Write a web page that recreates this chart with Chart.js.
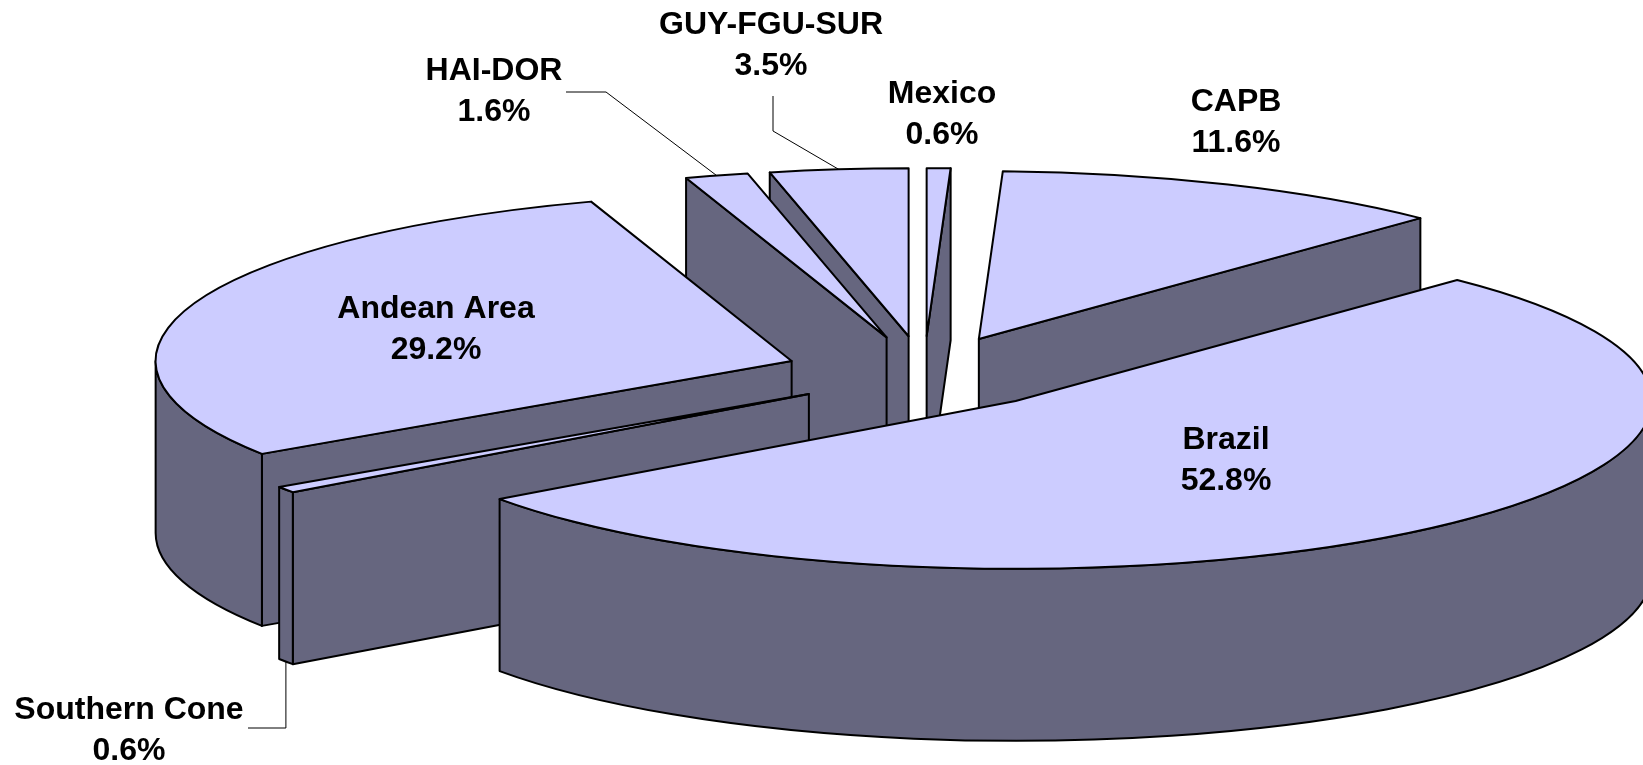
<!DOCTYPE html>
<html>
<head>
<meta charset="utf-8">
<script src="https://cdn.jsdelivr.net/npm/chart.js@4.4.0/dist/chart.umd.min.js"></script>
<style>
html,body{margin:0;padding:0;background:#fff;overflow:hidden}
#wrap{width:1643px;height:765px;position:relative}
</style>
</head>
<body>
<div id="wrap"><canvas id="c" width="1643" height="765"></canvas></div>
<script>
// ---- data ----
const categories = ['Mexico', 'CAPB', 'Brazil', 'Southern Cone', 'Andean Area', 'HAI-DOR', 'GUY-FGU-SUR'];
const shares = [0.6, 11.6, 52.8, 0.6, 29.2, 1.6, 3.5];

// ---- layout (label centre of first line, leader elbows) ----
const labelCenters = [[942, 94], [1236, 102], [1226, 440], [129, 710], [436, 309], [494, 71], [771, 25]];
const leaderStarts = [null, null, null, [248, 728], null, [566, 92], [773, 96]];
const leaderElbows = [null, null, null, 'h', null, [606, 92], [773, 131]];
const leaderAtBottom = [false, false, false, true, false, false, false];

// ---- style ----
const TOP_COLOR = '#CCCCFF';
const SIDE_COLOR = '#66667F';
const GEOM = { cx: 924, cy: 373, tilt: 0.264, depth: 172, explode: 140, radius: 636 };

const pie3d = {
  id: 'pie3d',
  beforeDatasetsDraw(chart) {
    const ctx = chart.ctx;
    const arcs = chart.getDatasetMeta(0).data;
    const k = GEOM.tilt, D = GEOM.depth, EX = GEOM.explode;
    const mid = a => (a.startAngle + a.endAngle) / 2;
    const order = arcs.map((a, i) => i).sort((i, j) => Math.sin(mid(arcs[i])) - Math.sin(mid(arcs[j])));
    for (const i of order) {
      const a = arcs[i];
      const s = a.startAngle, e = a.endAngle, m = mid(a), R = a.outerRadius;
      const ax = GEOM.cx + Math.cos(m) * EX;
      const ay = GEOM.cy + k * Math.sin(m) * EX;
      const rim = (t, z) => [ax + R * Math.cos(t), ay + k * R * Math.sin(t) + z];
      ctx.save();
      ctx.fillStyle = SIDE_COLOR;
      ctx.strokeStyle = '#000';
      ctx.lineWidth = 2;
      ctx.lineJoin = 'round';
      const wall = t => {
        const p = rim(t, 0), q = rim(t, D);
        ctx.beginPath();
        ctx.moveTo(ax, ay);
        ctx.lineTo(p[0], p[1]);
        ctx.lineTo(q[0], q[1]);
        ctx.lineTo(ax, ay + D);
        ctx.closePath();
        ctx.fill();
        ctx.stroke();
      };
      if (Math.cos(s) < -1e-6) wall(s);
      if (Math.cos(e) > 1e-6) wall(e);
      const v0 = Math.max(s, 0), v1 = Math.min(e, Math.PI);
      if (v1 > v0) {
        ctx.beginPath();
        ctx.ellipse(ax, ay, R, k * R, 0, v0, v1, false);
        ctx.ellipse(ax, ay + D, R, k * R, 0, v1, v0, true);
        ctx.closePath();
        ctx.fill();
        ctx.stroke();
      }
      // top face drawn by the library's arc element, flattened
      ctx.save();
      ctx.translate(ax, ay);
      ctx.scale(1, k);
      ctx.translate(-a.x, -a.y);
      a.draw(ctx);
      ctx.restore();
      ctx.beginPath();
      ctx.moveTo(ax, ay);
      ctx.ellipse(ax, ay, R, k * R, 0, s, e, false);
      ctx.closePath();
      ctx.stroke();
      ctx.restore();
    }
    return false;
  },
  afterDraw(chart) {
    const ctx = chart.ctx;
    const arcs = chart.getDatasetMeta(0).data;
    const k = GEOM.tilt, D = GEOM.depth, EX = GEOM.explode;
    ctx.save();
    // leader lines
    ctx.strokeStyle = '#000';
    ctx.lineWidth = 1;
    arcs.forEach((a, i) => {
      if (!leaderStarts[i]) return;
      const m = (a.startAngle + a.endAngle) / 2, R = a.outerRadius;
      const ax = GEOM.cx + Math.cos(m) * EX;
      const ay = GEOM.cy + k * Math.sin(m) * EX;
      const px = ax + R * Math.cos(m);
      const py = ay + k * R * Math.sin(m) + (leaderAtBottom[i] ? D : 0);
      const st = leaderStarts[i];
      const el = leaderElbows[i] === 'h' ? [px, st[1]] : leaderElbows[i];
      ctx.beginPath();
      ctx.moveTo(st[0], st[1]);
      ctx.lineTo(el[0], el[1]);
      ctx.lineTo(px, py);
      ctx.stroke();
    });
    // labels
    ctx.fillStyle = '#000';
    ctx.font = 'bold 32px "Liberation Sans", Arial, sans-serif';
    ctx.textAlign = 'center';
    ctx.textBaseline = 'middle';
    categories.forEach((name, i) => {
      const [x, y] = labelCenters[i];
      ctx.fillText(name, x, y);
      ctx.fillText(shares[i].toFixed(1) + '%', x, y + 41);
    });
    ctx.restore();
  }
};

new Chart(document.getElementById('c'), {
  type: 'pie',
  data: {
    labels: categories,
    datasets: [{
      data: shares,
      backgroundColor: TOP_COLOR,
      borderWidth: 0,
      offset: 0,
      radius: GEOM.radius,
      clip: false
    }]
  },
  options: {
    responsive: false,
    animation: false,
    events: [],
    rotation: 0,
    radius: GEOM.radius,
    layout: { padding: 0 },
    plugins: { legend: { display: false }, tooltip: { enabled: false } }
  },
  plugins: [pie3d]
});
</script>
</body>
</html>
